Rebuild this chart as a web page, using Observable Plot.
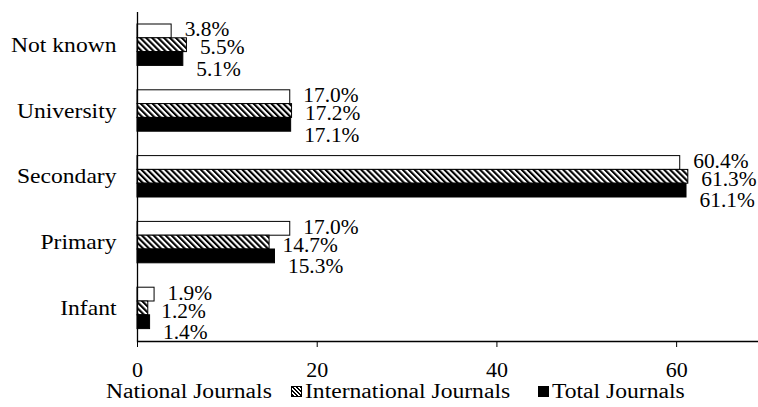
<!DOCTYPE html>
<html>
<head>
<meta charset="utf-8">
<script src="https://cdn.jsdelivr.net/npm/d3@7"></script>
<script src="https://cdn.jsdelivr.net/npm/@observablehq/plot@0.6"></script>
<style>
  html, body { margin: 0; padding: 0; background: #fff; }
  #chart { width: 758px; height: 407px; position: relative; font-family: "Liberation Serif", "Times New Roman", serif; color: #000; overflow: hidden; }
  #chart svg text { font-family: "Liberation Serif", "Times New Roman", serif; }
  .legend { position: relative; height: 27px; font-size: 20px; }
  .item { position: absolute; top: -1px; height: 25px; display: flex; align-items: center; white-space: nowrap; }
  .sw { width: 11px; height: 11px; box-sizing: border-box; flex: none; }
  .lab { display: inline-block; transform: scaleX(1.18); transform-origin: 0 50%; }
</style>
</head>
<body>
<div id="chart"></div>
<script>
const categories = ["Not known", "University", "Secondary", "Primary", "Infant"];
const seriesNames = ["National Journals", "International Journals", "Total Journals"];
const nationalValues = [3.8, 17.0, 60.4, 17.0, 1.9];
const internationalValues = [5.5, 17.2, 61.3, 14.7, 1.2];
const totalValues = [5.1, 17.1, 61.1, 15.3, 1.4];
const xTicks = [0, 20, 40, 60];

const seriesValues = [nationalValues, internationalValues, totalValues];
const rows = seriesValues.map((vals, s) =>
  categories.map((c, i) => ({category: c, series: seriesNames[s], value: vals[i]}))
);

const fills = ["white", "url(#hatch)", "black"];
const insets = [[12, 40], [25.8, 26.2], [39.6, 12.4]];
const labelDy = [-15.5, 2.5, 24];
const FS = 20;  // font size (vertical)

const marks = [];
rows.forEach((data, s) => {
  marks.push(Plot.barX(data, {
    x: "value", y: "category",
    fill: fills[s], stroke: "black", strokeWidth: 1,
    insetTop: insets[s][0], insetBottom: insets[s][1]
  }));
});
rows.forEach((data, s) => {
  marks.push(Plot.text(data, {
    x: "value", y: "category",
    text: d => d.value.toFixed(1) + "%",
    textAnchor: "start", dx: 13, dy: labelDy[s],
    fill: "black", fontSize: FS, className: "vlabel"
  }));
});
marks.push(Plot.ruleX([0], {stroke: "black", strokeWidth: 1.3}));
marks.push(Plot.frame({anchor: "bottom", stroke: "black", strokeWidth: 1.3}));
marks.push(Plot.axisX({ticks: xTicks, tickSize: 6, tickPadding: 15, label: null, fontSize: FS, stroke: "black", className: "xlabels"}));
marks.push(Plot.axisY({tickSize: 0, tickPadding: 21, label: null, fontSize: FS, className: "ylabels"}));

const svg = Plot.plot({
  width: 758,
  height: 380,
  marginLeft: 137,
  marginRight: 1,
  marginTop: 12,
  marginBottom: 39,
  style: {fontFamily: "Liberation Serif", fontSize: FS + "px", color: "black", background: "white"},
  x: {domain: [0, 69]},
  y: {domain: categories, padding: 0, round: false},
  marks
});

// hatch pattern for the International Journals bars
const defs = d3.select(svg).insert("defs", ":first-child");
const pat = defs.append("pattern")
  .attr("id", "hatch")
  .attr("patternUnits", "userSpaceOnUse")
  .attr("width", 4.2).attr("height", 4.2)
  .attr("patternTransform", "rotate(-45)");
pat.append("rect").attr("width", 4.2).attr("height", 4.2).attr("fill", "white");
pat.append("rect").attr("width", 2.1).attr("height", 4.2).attr("fill", "black");

// widen lettering horizontally around each text's own anchor point, as in the reference
const isNum = v => v != null && v !== "" && isFinite(+v);
function stretch(selection, k) {
  selection.each(function() {
    const t = d3.select(this);
    const xa = t.attr("x"), ya = t.attr("y");
    const x = isNum(xa) ? +xa : 0;
    const y = isNum(ya) ? +ya : 0;
    if (isNum(xa)) t.attr("x", null);
    if (isNum(ya)) t.attr("y", null);
    const tr = t.attr("transform") || "";
    t.attr("transform", `${tr} translate(${x},${y}) scale(${k},1)`);
  });
}
stretch(d3.select(svg).selectAll(".vlabel text"), 1.07);
stretch(d3.select(svg).selectAll(".xlabels text"), 1.1);
stretch(d3.select(svg).selectAll(".ylabels text"), 1.18);

const chart = document.getElementById("chart");
chart.appendChild(svg);

const legendItems = [
  {name: seriesNames[0], left: 92, style: "background:#fff;"},
  {name: seriesNames[1], left: 291, style: "border:1px solid #000;background:repeating-linear-gradient(45deg,#000 0 1.5px,#fff 1.5px 3px);"},
  {name: seriesNames[2], left: 538, style: "background:#000;"}
];
const legend = document.createElement("div");
legend.className = "legend";
legendItems.forEach(it => {
  const item = document.createElement("div");
  item.className = "item";
  item.style.left = it.left + "px";
  const sw = document.createElement("span");
  sw.className = "sw";
  sw.setAttribute("style", it.style + "margin-right:3px;");
  const label = document.createElement("span");
  label.className = "lab";
  label.textContent = it.name;
  item.appendChild(sw);
  item.appendChild(label);
  legend.appendChild(item);
});
chart.appendChild(legend);
</script>
</body>
</html>
